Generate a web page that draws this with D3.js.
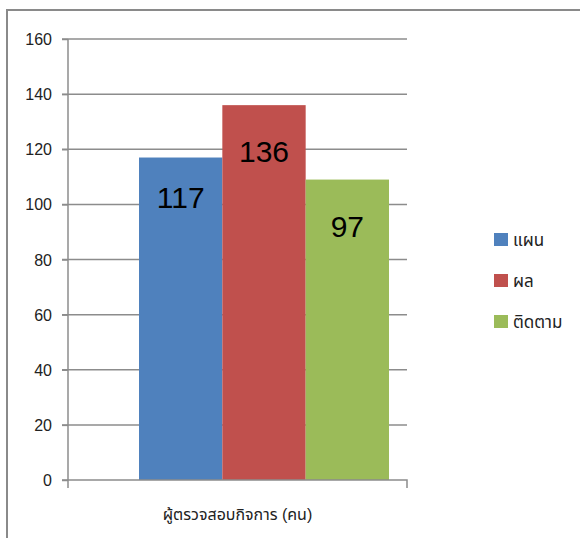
<!DOCTYPE html>
<html><head><meta charset="utf-8">
<script src="https://cdn.jsdelivr.net/npm/d3@7"></script>
<style>body{margin:0;background:#fff}svg{display:block}</style>
</head><body>
<script>
const categories = ["ผู้ตรวจสอบกิจการ (คน)"];
const seriesNames = ["แผน", "ผล", "ติดตาม"];
const seriesValues = [117, 136, 109];
const dataLabels = ["117", "136", "97"];
const seriesColors = ["#4f81bd", "#c0504d", "#9bbb59"];
const yTicks = [0, 20, 40, 60, 80, 100, 120, 140, 160];

const W = 580, H = 538;
const svg = d3.select("body").append("svg").attr("width", W).attr("height", H);
const font = "'Liberation Sans', 'Noto Sans', 'Noto Sans Thai', sans-serif";

// outer frame (top and left visible)
svg.append("rect").attr("x", 7).attr("y", 10).attr("width", 600).attr("height", 600)
  .attr("fill", "none").attr("stroke", "#8a8a8a").attr("stroke-width", 2);

const plotL = 68, plotR = 407, plotT = 39, plotB = 480;
const y = d3.scaleLinear().domain([0, 160]).range([plotB, plotT]);
const x = d3.scaleBand().domain(categories).range([plotL, plotR]);
const xs = d3.scaleBand().domain(seriesNames).range([139, 389]);

// gridlines
svg.append("g").selectAll("line").data(yTicks.filter(d => d > 0)).join("line")
  .attr("x1", plotL - 6).attr("x2", plotR).attr("y1", d => y(d)).attr("y2", d => y(d))
  .attr("stroke", "#8c8c8c").attr("stroke-width", 1.5);

// bars
svg.append("g").selectAll("rect").data(seriesNames).join("rect")
  .attr("x", d => xs(d)).attr("width", xs.bandwidth())
  .attr("y", (d, i) => y(seriesValues[i])).attr("height", (d, i) => plotB - y(seriesValues[i]))
  .attr("fill", (d, i) => seriesColors[i]);

// y axis
const yAxis = svg.append("g").attr("transform", `translate(${plotL},0)`)
  .call(d3.axisLeft(y).tickValues(yTicks).tickSize(6).tickPadding(10));
yAxis.select(".domain").attr("stroke", "#8c8c8c").attr("stroke-width", 1.5).attr("d", `M0,${plotT}V${plotB + 8}`);
yAxis.selectAll(".tick line").attr("stroke", "#8c8c8c").attr("stroke-width", 1.5);
yAxis.selectAll(".tick text").attr("font-family", font).attr("font-size", 16).attr("fill", "#222").attr("dy", "0.35em");

// x axis
const xAxis = svg.append("g").attr("transform", `translate(0,${plotB})`)
  .call(d3.axisBottom(x).tickSize(0).tickPadding(26));
xAxis.select(".domain").attr("stroke", "#8c8c8c").attr("stroke-width", 1.5)
  .attr("d", `M${plotL - 6},0H${plotR}V8`);
xAxis.selectAll(".tick text").attr("font-family", font).attr("font-size", 16).attr("fill", "#222").attr("dy", "0.9em");

// data labels
svg.append("g").selectAll("text").data(seriesNames).join("text")
  .attr("x", d => xs(d) + xs.bandwidth() / 2)
  .attr("y", (d, i) => y(seriesValues[i]) + (i === 0 ? 50 : 57))
  .attr("text-anchor", "middle").attr("font-family", font).attr("font-size", 30).attr("fill", "#000")
  .text((d, i) => dataLabels[i]);

// legend
const lg = svg.append("g").selectAll("g").data(seriesNames).join("g")
  .attr("transform", (d, i) => `translate(494,${233 + i * 41})`);
lg.append("rect").attr("width", 14).attr("height", 13).attr("fill", (d, i) => seriesColors[i]);
lg.append("text").attr("x", 19).attr("y", 13).attr("font-family", font).attr("font-size", 17).attr("fill", "#222").text(d => d);
</script>
</body></html>
